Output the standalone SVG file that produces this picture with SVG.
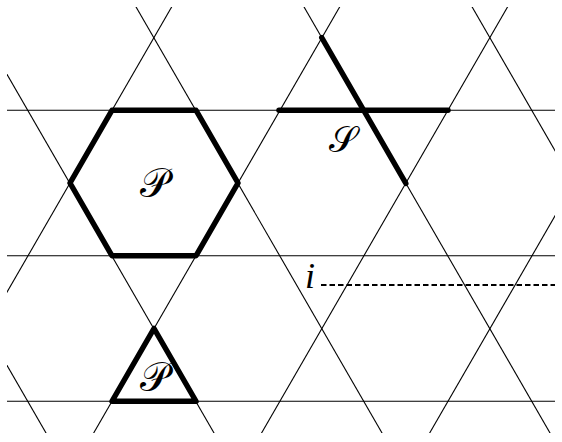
<svg xmlns="http://www.w3.org/2000/svg" width="562" height="442" viewBox="0 0 562 442">
  <style>
    .thin { stroke: #000; stroke-width: 1.1; fill: none; }
    .thick { stroke: #000; stroke-width: 5.5; fill: none; stroke-linejoin: round; stroke-linecap: round; }
    .cal { font-family: "DejaVu Serif", "Liberation Serif", serif; font-size: 40px; fill: #000; text-anchor: middle; }
    .it { font-family: "Liberation Serif", serif; font-style: italic; font-size: 36px; fill: #000; }
  </style>
  <defs>
    <clipPath id="frame"><rect x="7" y="7" width="548" height="426"/></clipPath>
  </defs>
  <rect width="562" height="442" fill="#fff"/>
  <g id="lattice" clip-path="url(#frame)" class="thin">
    <line x1="0" y1="110.25" x2="562" y2="110.25"/>
    <line x1="0" y1="255.75" x2="562" y2="255.75"/>
    <line x1="0" y1="401.25" x2="562" y2="401.25"/>
    <line x1="233.4" y1="-100" x2="-136.1" y2="540"/>
    <line x1="401.4" y1="-100" x2="31.9" y2="540"/>
    <line x1="569.3" y1="-100" x2="199.8" y2="540"/>
    <line x1="737.4" y1="-100" x2="367.9" y2="540"/>
    <line x1="-261.7" y1="-100" x2="107.8" y2="540"/>
    <line x1="-93.7" y1="-100" x2="275.8" y2="540"/>
    <line x1="74.3" y1="-100" x2="443.8" y2="540"/>
    <line x1="242.3" y1="-100" x2="611.8" y2="540"/>
    <line x1="410.4" y1="-100" x2="779.8" y2="540"/>
  </g>
  <g id="hexagon-P">
    <polygon class="thick" points="112,110.25 196,110.25 238,183 196,255.75 112,255.75 70,183"/>
    <text class="cal" x="154" y="197">𝒫</text>
  </g>
  <g id="triangle-P">
    <polygon class="thick" points="154,328.5 196,401.25 112,401.25"/>
    <text class="cal" x="154" y="391">𝒫</text>
  </g>
  <g id="star-S">
    <line class="thick" x1="279" y1="110.25" x2="448" y2="110.25"/>
    <line class="thick" x1="321.8" y1="37.75" x2="405.8" y2="183.25"/>
    <text class="cal" x="343" y="152" style="font-size:36px">𝒮</text>
  </g>
  <g id="site-i">
    <text class="it" x="305" y="288">i</text>
    <line x1="321" y1="285" x2="555" y2="285" stroke="#000" stroke-width="2" stroke-dasharray="5.5,3"/>
  </g>
</svg>
